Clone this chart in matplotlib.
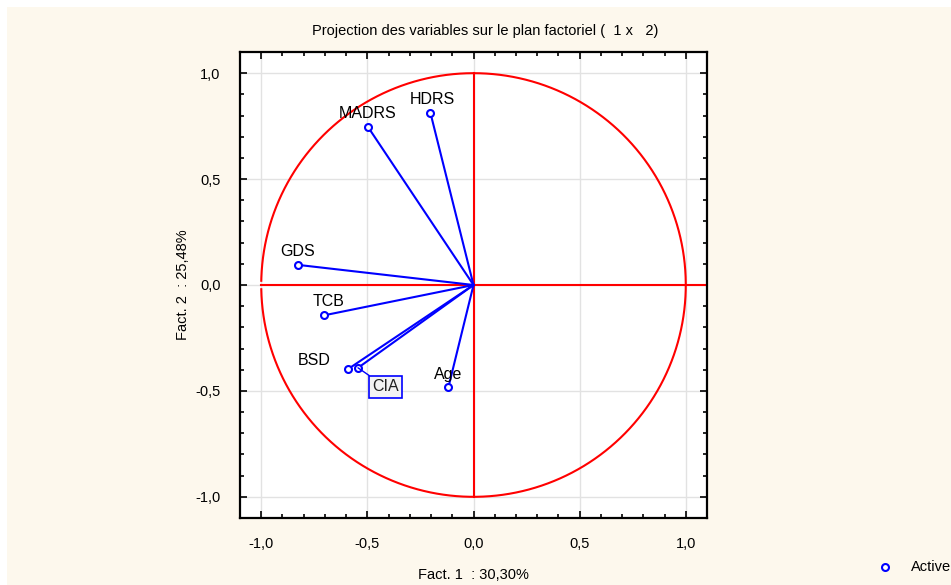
import numpy as np
import matplotlib.pyplot as plt
from matplotlib.ticker import MultipleLocator, FuncFormatter
from matplotlib.patches import Rectangle

plt.rcParams['font.family'] = ['Liberation Sans', 'DejaVu Sans']

# variable coordinates on factors 1 and 2
names = ['HDRS', 'MADRS', 'GDS', 'TCB', 'BSD', 'CIA', 'Age']
fact1 = [-0.203, -0.497, -0.827, -0.703, -0.591, -0.544, -0.118]
fact2 = [0.813, 0.746, 0.095, -0.143, -0.397, -0.391, -0.482]
# label offsets (data units) relative to each point
lab_dx = [0.01, 0.0, 0.0, 0.02, -0.16, 0.0, 0.0]
lab_dy = [0.065, 0.065, 0.065, 0.065, 0.04, 0.0, 0.06]

fig = plt.figure(figsize=(9.51, 5.85), dpi=100)
fig.patch.set_facecolor('white')
fig.patches.append(Rectangle((7/951, 0), 1, 1 - 7/585, transform=fig.transFigure,
                             facecolor='#fdf8ed', edgecolor='none', zorder=-10))

ax = fig.add_axes([240/951, 1 - 518/585, 467/951, 466/585])
ax.set_facecolor('white')
ax.set_xlim(-1.1, 1.1)
ax.set_ylim(-1.1, 1.1)

ax.xaxis.set_major_locator(MultipleLocator(0.5))
ax.yaxis.set_major_locator(MultipleLocator(0.5))
ax.xaxis.set_minor_locator(MultipleLocator(0.1))
ax.yaxis.set_minor_locator(MultipleLocator(0.1))
fmt = FuncFormatter(lambda v, p: ('%.1f' % v).replace('.', ',').replace('-0,0', '0,0'))
ax.xaxis.set_major_formatter(fmt)
ax.yaxis.set_major_formatter(fmt)
ax.tick_params(which='both', direction='in', top=True, right=True, width=1.2, colors='black')
ax.tick_params(which='major', length=5, labelsize=10.5, pad=14)
ax.tick_params(which='minor', length=3)
for s in ax.spines.values():
    s.set_linewidth(1.6)
ax.grid(True, which='major', color='#e2e2e2', linewidth=1.0, zorder=0)

# unit circle and axes through origin
t = np.linspace(np.pi + 0.02, 3 * np.pi - 0.02, 400)
ax.plot(np.cos(t), np.sin(t), color='#ff0000', lw=1.5, zorder=2)
ax.plot([-1, 1.1], [0, 0], color='#ff0000', lw=1.5, zorder=2)
ax.plot([0, 0], [-1, 1], color='#ff0000', lw=1.5, zorder=2)

for i, n in enumerate(names):
    ax.plot([0, fact1[i]], [0, fact2[i]], color='#0000ff', lw=1.5, zorder=3)
    ax.plot(fact1[i], fact2[i], 'o', mfc='white', mec='#0000ff', mew=1.5, ms=5, zorder=4)
    if n == 'CIA':
        ax.annotate(n, xy=(fact1[i], fact2[i]), xytext=(fact1[i] + 0.13, fact2[i] - 0.09),
                    ha='center', va='center', fontsize=11.5, color='#222222',
                    bbox=dict(boxstyle='square,pad=0.2', fc='#f4f4f4', ec='#0000ff', lw=1.2),
                    arrowprops=dict(arrowstyle='-', color='#0000ff', lw=1.0, shrinkA=0, shrinkB=0),
                    zorder=5)
    else:
        ax.text(fact1[i] + lab_dx[i], fact2[i] + lab_dy[i], n, ha='center', va='center',
                fontsize=11.5, color='black', zorder=5)

ax.set_title('Projection des variables sur le plan factoriel (  1 x   2)', fontsize=10.5, pad=12, x=0.525)
ax.set_xlabel('Fact. 1  : 30,30%', fontsize=10.5, labelpad=12)
ax.set_ylabel('Fact. 2  : 25,48%', fontsize=10.5, labelpad=4)

# legend at bottom right
fig.lines.append(plt.Line2D([885/951], [1 - 567/585], transform=fig.transFigure, marker='o',
                            mfc='white', mec='#0000ff', mew=1.5, ms=5, linestyle='none'))
fig.text(911/951, 1 - 567/585, 'Active', fontsize=10.5, va='center', ha='left')

fig.savefig('out.png', dpi=100, facecolor=fig.get_facecolor())
